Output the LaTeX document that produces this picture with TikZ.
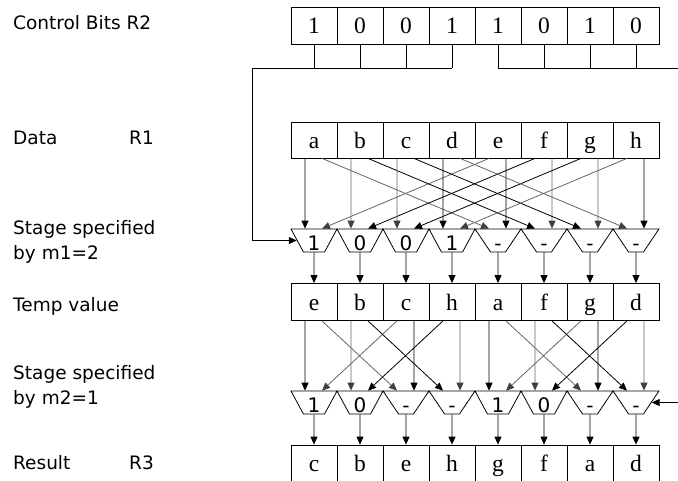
\documentclass[tikz,border=0pt]{standalone}
\usepackage{fontspec}
\setmainfont{Liberation Serif}
\newfontfamily\labelfont{DejaVu Sans}
\usetikzlibrary{positioning,arrows.meta,shapes.geometric}

\begin{document}
\begin{tikzpicture}[x=1pt,y=-1pt,
  cell/.style={draw, line width=0.8pt, minimum width=46pt, minimum height=37pt, inner sep=0pt,
    text height=16pt, text depth=0pt, font=\fontsize{23.5}{23.5}\selectfont},
  mux/.style={draw, line width=0.8pt, trapezium, trapezium left angle=111, trapezium right angle=111,
    trapezium stretches=true, minimum width=46pt, minimum height=23pt, inner sep=0pt,
    text height=19.5pt, text depth=0pt, font=\labelfont\fontsize{20}{20}\selectfont},
  lbl/.style={anchor=base west, inner sep=0pt, align=left, font=\labelfont\fontsize{18.5}{25}\selectfont},
  wire/.style={line width=0.8pt},
  blk/.style={line width=0.8pt, -{Triangle[length=8pt,width=7pt]}},
  gry/.style={line width=0.8pt, black!60, -{Triangle[length=8pt,width=7pt,black!75]}}]
\useasboundingbox (0,0) rectangle (678,480);

% left hand labels (base of a two line label is its last line)
\node[lbl] (lctl) at (13,29) {Control Bits R2};
\node[lbl] (ldat) at (13,144) {Data};
\node[lbl] (lr1) at (129,144) {R1};
\node[lbl] (lst1) at (13,259) {Stage specified\\by m1=2};
\node[lbl] (ltmp) at (13,311) {Temp value};
\node[lbl] (lst2) at (13,404) {Stage specified\\by m2=1};
\node[lbl] (lres) at (13,469) {Result};
\node[lbl] (lr3) at (129,469) {R3};

% registers and the two mux stages
\foreach \v [count=\i] in {1,0,0,1,1,0,1,0}
  \node[cell] (c\i) at ({268+46*\i},25.5) {\v};
\foreach \v [count=\i] in {a,b,c,d,e,f,g,h}
  \node[cell, minimum height=36pt] (d\i) at ({268+46*\i},140) {\v};
\foreach \v [count=\i] in {1,0,0,1,-,-,-,-}
  \node[mux] (ma\i) at ({268+46*\i},240.5) {\v};
\foreach \v [count=\i] in {e,b,c,h,a,f,g,d}
  \node[cell] (t\i) at ({268+46*\i},302) {\v};
\foreach \v [count=\i] in {1,0,-,-,1,0,-,-}
  \node[mux] (mb\i) at ({268+46*\i},402.5) {\v};
\foreach \v [count=\i] in {c,b,e,h,g,f,a,d}
  \node[cell] (r\i) at ({268+46*\i},463.5) {\v};

% control bits: low half selects stage 1, high half selects stage 2
\coordinate (busL) at (252,68);
\coordinate (busR) at (684,68);
\foreach \i in {1,...,8}
  \draw[wire] (c\i.south) -- (c\i.south |- busL);
\draw[blk] (c4.south |- busL) -- (busL) |- (ma1.west);
\draw[blk] (c5.south |- busR) -- (busR) |- (mb8.east);

% stage 1: swap over a distance of 4
\foreach \i/\j/\s/\t in {1/5/blk/gry, 2/6/gry/blk, 3/7/gry/blk, 4/8/blk/gry} {
  \draw[\s] ([xshift=-9pt]d\i.south) -- ([xshift=-9pt]ma\i.north);
  \draw[\t] ([xshift=-9pt]d\j.south) -- ([xshift=8pt]ma\i.north);
  \draw[\s] ([xshift=8pt]d\j.south) -- ([xshift=8pt]ma\j.north);
  \draw[\t] ([xshift=8pt]d\i.south) -- ([xshift=-9pt]ma\j.north);
}
% stage 2: swap over a distance of 2
\foreach \i/\j/\s/\t in {1/3/blk/gry, 2/4/gry/blk, 5/7/blk/gry, 6/8/gry/blk} {
  \draw[\s] ([xshift=-9pt]t\i.south) -- ([xshift=-9pt]mb\i.north);
  \draw[\t] ([xshift=-9pt]t\j.south) -- ([xshift=8pt]mb\i.north);
  \draw[\s] ([xshift=8pt]t\j.south) -- ([xshift=8pt]mb\j.north);
  \draw[\t] ([xshift=8pt]t\i.south) -- ([xshift=-9pt]mb\j.north);
}
% mux outputs
\foreach \i in {1,...,8} {
  \draw[blk] (ma\i.south) -- (t\i.north);
  \draw[blk] (mb\i.south) -- (r\i.north);
}
\end{tikzpicture}
\end{document}
